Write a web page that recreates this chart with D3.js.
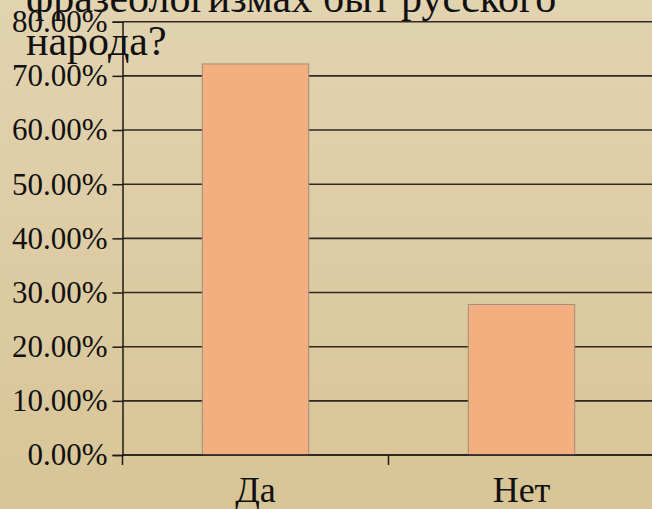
<!DOCTYPE html>
<html>
<head>
<meta charset="utf-8">
<script src="https://cdn.jsdelivr.net/npm/d3@7"></script>
<style>
  html, body { margin: 0; padding: 0; }
  svg { display: block; }
  text { font-family: "Liberation Serif", "DejaVu Serif", serif; fill: #111; }
</style>
</head>
<body>
<svg id="chart"></svg>
<script>
const categories = ["Да", "Нет"];
const values = [0.722, 0.278];
const yTicks = [0, 0.1, 0.2, 0.3, 0.4, 0.5, 0.6, 0.7, 0.8];
const titleLines = ["фразеологизмах быт русского", "народа?"];

const width = 652, height = 509;
const margin = { top: 21.7, left: 122.5, bottom: 54 };
const plotBottom = height - margin.bottom;
const serif = "'Liberation Serif', 'DejaVu Serif', serif";

const svg = d3.select("#chart")
  .attr("width", width)
  .attr("height", height);

// background gradient
const defs = svg.append("defs");
const grad = defs.append("linearGradient")
  .attr("id", "bg")
  .attr("x1", "0").attr("y1", "0")
  .attr("x2", "0").attr("y2", "1");
grad.append("stop").attr("offset", "0%").attr("stop-color", "#e2d3b1");
grad.append("stop").attr("offset", "100%").attr("stop-color", "#d8c596");

svg.append("rect")
  .attr("width", width)
  .attr("height", height)
  .attr("fill", "url(#bg)");

const x = d3.scaleBand()
  .domain(categories)
  .range([margin.left, margin.left + 532])
  .paddingInner(0.6)
  .paddingOuter(0.3);

const y = d3.scaleLinear()
  .domain([0, 0.8])
  .range([plotBottom, margin.top]);

// gridlines
svg.append("g")
  .selectAll("line")
  .data(yTicks)
  .enter()
  .append("line")
  .attr("x1", margin.left)
  .attr("x2", width)
  .attr("y1", d => y(d))
  .attr("y2", d => y(d))
  .attr("stroke", "#2e2a22")
  .attr("stroke-width", 1.6);

// bars
svg.append("g")
  .selectAll("rect")
  .data(values)
  .enter()
  .append("rect")
  .attr("x", (d, i) => x(categories[i]))
  .attr("y", d => y(d))
  .attr("width", x.bandwidth())
  .attr("height", d => plotBottom - y(d))
  .attr("fill", "#f4af80")
  .attr("stroke", "#a08d78")
  .attr("stroke-width", 1);

// y axis
const yAxis = svg.append("g")
  .attr("transform", "translate(" + margin.left + ",0)")
  .call(d3.axisLeft(y)
    .tickValues(yTicks)
    .tickSize(10)
    .tickPadding(5)
    .tickFormat(d => (d * 100).toFixed(2) + "%"));
yAxis.attr("font-family", serif).attr("font-size", 31);
yAxis.select(".domain").attr("stroke", "#1e1b16").attr("stroke-width", 1.5);
yAxis.selectAll(".tick line").attr("stroke", "#1e1b16").attr("stroke-width", 1.5);
yAxis.selectAll(".tick text")
  .style("font-family", serif)
  .style("font-size", "31px")
  .attr("fill", "#111");

// x axis
const xStep = x.step();
const xBounds = [margin.left, margin.left + xStep, margin.left + 2 * xStep];
svg.append("line")
  .attr("x1", margin.left).attr("x2", width)
  .attr("y1", plotBottom).attr("y2", plotBottom)
  .attr("stroke", "#1e1b16")
  .attr("stroke-width", 1.6);
svg.append("g")
  .selectAll("line")
  .data(xBounds)
  .enter()
  .append("line")
  .attr("x1", d => d).attr("x2", d => d)
  .attr("y1", plotBottom).attr("y2", plotBottom + 10)
  .attr("stroke", "#1e1b16")
  .attr("stroke-width", 1.5);

svg.append("g")
  .selectAll("text")
  .data(categories)
  .enter()
  .append("text")
  .attr("x", d => x(d) + x.bandwidth() / 2)
  .attr("y", 502)
  .attr("text-anchor", "middle")
  .style("font-family", serif)
  .style("font-size", "36px")
  .text(d => d);

// title (clipped at the top of the picture)
svg.append("g")
  .selectAll("text")
  .data(titleLines)
  .enter()
  .append("text")
  .attr("x", 26)
  .attr("y", (d, i) => 12 + i * 43)
  .style("font-family", serif)
  .style("font-size", "42px")
  .text(d => d);
</script>
</body>
</html>
